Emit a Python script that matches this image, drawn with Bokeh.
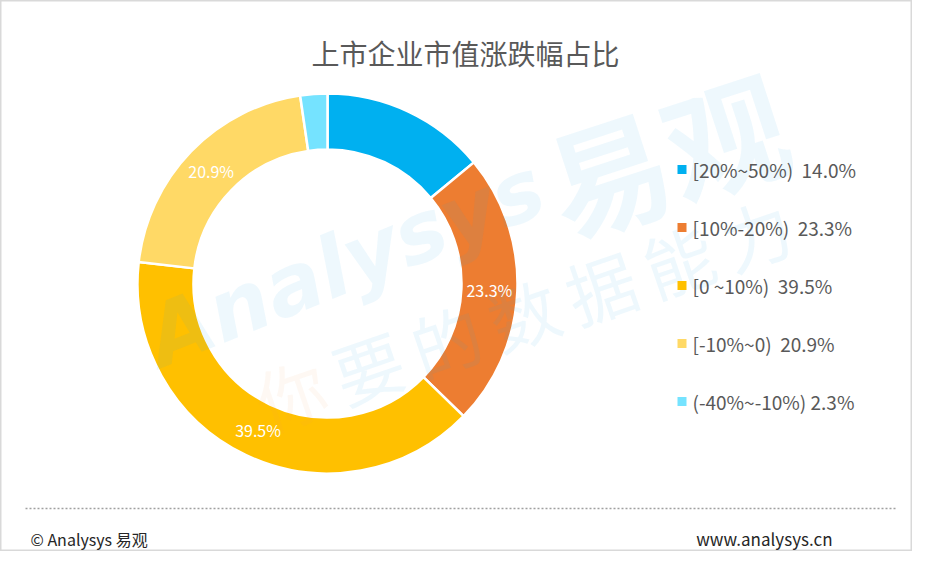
import numpy as np
from bokeh.plotting import figure
from bokeh.models import Range1d, ColumnDataSource
from bokeh.core.properties import value
from bokeh.embed import file_html
from bokeh.resources import INLINE

# ---- data ----
categories = ["[20%~50%)", "[10%-20%)", "[0 ~10%)", "[-10%~0)", "(-40%~-10%)"]
shares = [14.0, 23.3, 39.5, 20.9, 2.3]
colors = ["#00B0F0", "#ED7D31", "#FFC000", "#FFD966", "#75E3FF"]
legend_gap = ["\u00a0\u00a0", "\u00a0\u00a0", "\u00a0\u00a0", "\u00a0\u00a0", "\u00a0"]
label_shown = [False, True, True, True, False]
title = "上市企业市值涨跌幅占比"
footer_left = "© Analysys 易观"
footer_right = "www.analysys.cn"
wm_slogan = "你要的数据能力"

FONT = "Noto Sans CJK SC"
H = 567  # reference height; y data = H - y_pixel

p = figure(width=912, height=551, output_backend="svg", toolbar_location=None,
           x_range=Range1d(0, 912), y_range=Range1d(H - 551, H),
           min_border=0, min_border_left=0, min_border_right=0,
           min_border_top=0, min_border_bottom=0)
p.axis.visible = False
p.grid.visible = False
p.background_fill_color = "white"
p.border_fill_color = "white"
p.outline_line_color = "#d9d9d9"
p.outline_line_width = 2

# ---- donut ----
cx, cy = 327, H - 283
r_in, r_out = 134, 190
frac = np.array(shares) / np.sum(shares)
cum_end = np.cumsum(frac)
cum_start = cum_end - frac
start_angle = np.pi / 2 - 2 * np.pi * cum_end
end_angle = np.pi / 2 - 2 * np.pi * cum_start
src = ColumnDataSource(dict(start=start_angle, end=end_angle, color=colors))
p.annular_wedge(x=cx, y=cy, inner_radius=r_in, outer_radius=r_out,
                start_angle="start", end_angle="end", fill_color="color",
                line_color="white", line_width=2.5, source=src)

mid = (start_angle + end_angle) / 2
r_lab = (r_in + r_out) / 2
lx = [cx + r_lab * np.cos(a) for a, s in zip(mid, label_shown) if s]
ly = [cy + r_lab * np.sin(a) for a, s in zip(mid, label_shown) if s]
lt = ["%.1f%%" % v for v, s in zip(shares, label_shown) if s]
p.text(x=lx, y=ly, text=lt, text_color="white", text_font=value(FONT),
       text_font_size="16px", text_align="center", text_baseline="middle")

# ---- watermark ----
p.text(x=[345], y=[H - 262], text=["Analysys"], text_color="#29ABE2", text_alpha=0.08,
       text_font=value("DejaVu Sans"), text_font_style="bold italic",
       text_font_size="84px", angle=np.deg2rad(22), text_align="center",
       text_baseline="middle")
p.text(x=[665], y=[H - 150], text=["易观"], text_color="#29ABE2", text_alpha=0.08,
       text_font=value(FONT), text_font_style="bold",
       text_font_size="122px", angle=np.deg2rad(18), text_align="center",
       text_baseline="middle")
wm_ang = np.deg2rad(19)
pitch = 82
sx0, sy0 = 290, H - 392
for i, ch in enumerate(wm_slogan):
    col = "#F5A05A" if i == 0 else "#29ABE2"
    p.text(x=[sx0 + i * pitch * np.cos(wm_ang)], y=[sy0 + i * pitch * np.sin(wm_ang)],
           text=[ch], text_color=col, text_alpha=0.08 if i else 0.07,
           text_font=value(FONT), text_font_size="70px", angle=wm_ang,
           text_align="center", text_baseline="middle")

# ---- legend ----
leg_y = [H - 169 - 58 * i for i in range(len(categories))]
p.rect(x=681.5, y=leg_y, width=9, height=9, fill_color=colors, line_color=None)
leg_text = ["%s%s%.1f%%" % (c, g, v) for c, g, v in zip(categories, legend_gap, shares)]
p.text(x=692, y=leg_y, text=leg_text, text_color="#595959", text_font=value(FONT),
       text_font_size="19px", text_align="left", text_baseline="middle")

# ---- title ----
p.text(x=[465], y=[H - 52], text=[title], text_color="#595959", text_font=value(FONT),
       text_font_size="28px", text_align="center", text_baseline="middle")

# ---- footer ----
p.segment(x0=[25], y0=[H - 508], x1=[897], y1=[H - 508], line_color="#a0a0a0",
          line_width=1.5, line_dash="2 2")
p.text(x=[30], y=[H - 538], text=[footer_left], text_color="#262626",
       text_font=value(FONT), text_font_size="16px", text_align="left",
       text_baseline="middle")
p.text(x=[832], y=[H - 538], text=[footer_right], text_color="#262626",
       text_font=value(FONT), text_font_size="17px", text_align="right",
       text_baseline="middle")

open("out.html", "w").write(file_html(p, INLINE))
